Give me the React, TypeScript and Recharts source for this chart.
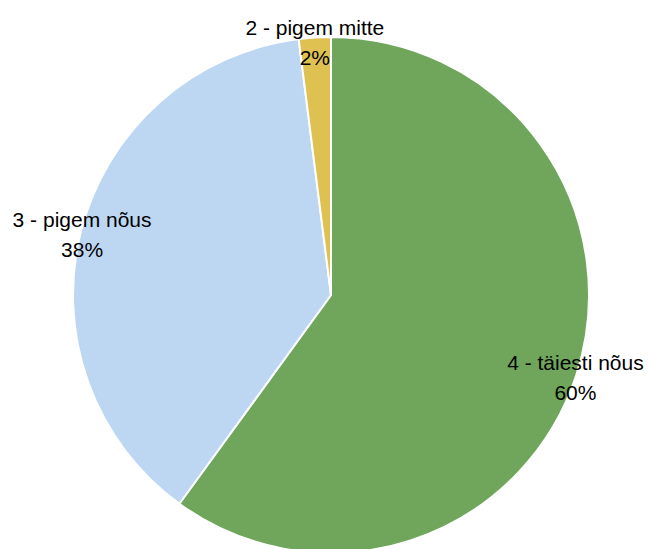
import React from "react";
import { PieChart, Pie, Cell } from "recharts";

const categories = ["4 - täiesti nõus", "3 - pigem nõus", "2 - pigem mitte"];
const values = [60, 38, 2];
const colors = ["#6fa65b", "#bdd7f3", "#dfc152"];

const data = categories.map((name, i) => ({ name, value: values[i] }));

const RAD = Math.PI / 180;

const renderLabel = (props: any) => {
  const { cx, cy, midAngle, outerRadius, index } = props;
  const r = outerRadius - 1;
  const x = cx + r * Math.cos(-midAngle * RAD);
  const y = cy + r * Math.sin(-midAngle * RAD);
  return (
    <text
      x={x}
      y={y}
      textAnchor="middle"
      fill="#000"
      fontSize={21}
      fontFamily="'Liberation Sans', Arial, sans-serif"
    >
      <tspan x={x} dy={-4}>{categories[index]}</tspan>
      <tspan x={x} dy={30}>{values[index]}%</tspan>
    </text>
  );
};

export default function App() {
  return (
    <div style={{ position: "absolute", left: 0, top: 0, background: "#fff" }}>
      <PieChart width={648} height={549} margin={{ top: 0, right: 0, bottom: 0, left: 0 }}>
        <Pie
          data={data}
          dataKey="value"
          cx={331}
          cy={295}
          outerRadius={258}
          startAngle={90}
          endAngle={-270}
          stroke="#ffffff"
          strokeWidth={2}
          label={renderLabel}
          labelLine={false}
          isAnimationActive={false}
        >
          {data.map((d, i) => (
            <Cell key={d.name} fill={colors[i]} />
          ))}
        </Pie>
      </PieChart>
    </div>
  );
}
